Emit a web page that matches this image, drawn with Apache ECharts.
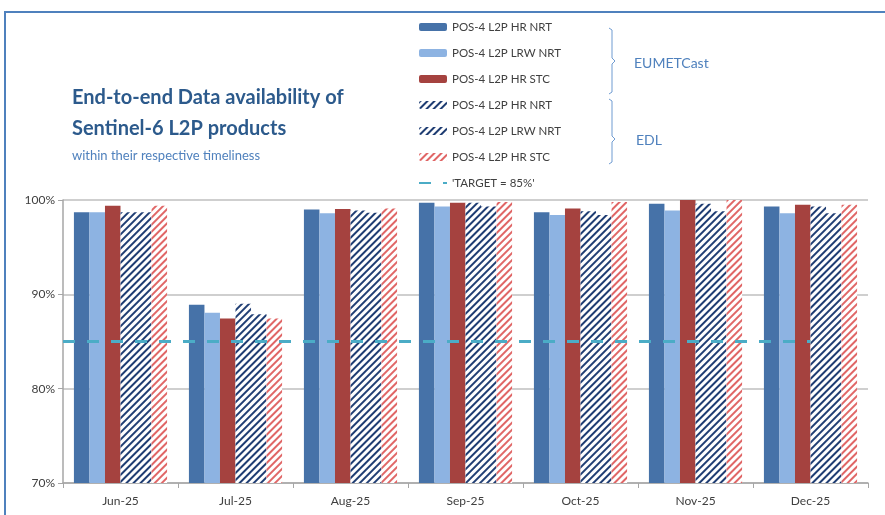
<!DOCTYPE html>
<html><head><meta charset="utf-8">
<script src="https://cdn.jsdelivr.net/npm/echarts@6/dist/echarts.min.js"></script>
<style>html,body{margin:0;padding:0;background:#fff}#c{width:885px;height:515px}</style>
</head><body><div id="c"></div>
<script>
const categories = ['Jun-25','Jul-25','Aug-25','Sep-25','Oct-25','Nov-25','Dec-25'];
const yTicks = [70, 80, 90, 100];
const eumHrNrt  = [98.7, 88.9, 99.0, 99.7, 98.7, 99.6, 99.3];
const eumLrwNrt = [98.7, 88.05, 98.6, 99.3, 98.4, 98.9, 98.6];
const eumHrStc  = [99.4, 87.45, 99.05, 99.7, 99.1, 100.0, 99.5];
const edlHrNrt  = [98.7, 89.0, 98.9, 99.7, 98.8, 99.6, 99.3];
const edlLrwNrt = [98.7, 87.9, 98.65, 99.3, 98.4, 98.8, 98.6];
const edlHrStc  = [99.4, 87.45, 99.1, 99.8, 99.8, 100.0, 99.5];
const targetValue = 85;
const seriesNames = ['POS-4 L2P HR NRT','POS-4 L2P LRW NRT','POS-4 L2P HR STC','POS-4 L2P HR NRT ','POS-4 L2P LRW NRT ','POS-4 L2P HR STC ',"'TARGET = 85%'"];

const FONT = 'Lato';
function hatch(col){
  return {symbol:'rect', dashArrayX:[1,0], dashArrayY:[2,3], rotation:-Math.PI/4, color:col, symbolSize:1};
}
function bar(name, data, color, decalColor){
  const s = {name, type:'bar', data, barGap:'0%', barCategoryGap:'19%',
    itemStyle:{color: color}};
  if (decalColor){ s.itemStyle.color = '#ffffff'; s.itemStyle.decal = hatch(decalColor); }
  return s;
}
const chart = echarts.init(document.getElementById('c'), null, {renderer:'canvas'});
const targetIdx = categories.length - 1;
const legendData = seriesNames.map((n,i)=> i===6 ? {name:n, itemStyle:{opacity:0}} : n);
chart.setOption({
  animation:false,
  textStyle:{fontFamily:FONT},
  grid:{left:63, right:17, top:200, bottom:32},
  xAxis:[{type:'category', data:categories,
    axisLine:{lineStyle:{color:'#a6a6a6', width:1.5}},
    axisTick:{show:true, length:5, lineStyle:{color:'#a6a6a6'}},
    axisLabel:{color:'#404040', fontSize:12, fontFamily:FONT, margin:12}},
   {type:'value', show:false, min:-0.5, max:categories.length-0.5}],
  yAxis:{type:'value', min:yTicks[0], max:yTicks[yTicks.length-1], interval:10,
    axisLine:{show:true, onZero:false, lineStyle:{color:'#a6a6a6', width:1.5}},
    axisTick:{show:true, length:5, lineStyle:{color:'#a6a6a6'}},
    splitLine:{lineStyle:{color:'#bfbfbf', width:1.5}},
    axisLabel:{color:'#404040', fontSize:12, fontFamily:FONT, margin:8, formatter:v=>v+'%'}},
  legend:{orient:'vertical', left:413, top:16, itemWidth:28, itemHeight:8, itemGap:14,
    textStyle:{color:'#404040', fontSize:11.5, fontFamily:FONT},
    data:legendData},
  series:[
    bar(seriesNames[0], eumHrNrt, '#4672a8'),
    bar(seriesNames[1], eumLrwNrt, '#8db3e2'),
    bar(seriesNames[2], eumHrStc, '#a5423f'),
    bar(seriesNames[3], edlHrNrt, null, '#1f3d73'),
    bar(seriesNames[4], edlLrwNrt, null, '#1f3d73'),
    bar(seriesNames[5], edlHrStc, null, '#e06666'),
    {name:seriesNames[6], type:'line', xAxisIndex:1, symbol:'none',
     data:[[-0.5, targetValue],[targetIdx, targetValue]],
     lineStyle:{color:'#4bacc6', width:3, type:[12,12]}, z:5}
  ],
  graphic:[
    {type:'rect', shape:{x:5, y:12, width:900, height:520}, style:{fill:'none', stroke:'#4f81bd', lineWidth:2}, silent:true},
    {type:'text', left:72, top:88, style:{text:'End-to-end Data availability of', font:'bold 20px '+FONT, fill:'#2c5a8c'}},
    {type:'text', left:72, top:119, style:{text:'Sentinel-6 L2P products', font:'bold 20px '+FONT, fill:'#2c5a8c'}},
    {type:'text', left:72, top:149, style:{text:'within their respective timeliness', font:'13px '+FONT, fill:'#4f81bd'}},
    {type:'polyline', shape:{points:[[609,28],[612,30],[612,58],[615,61],[612,64],[612,92],[609,94]]}, style:{stroke:'#6f9bd1', lineWidth:1, fill:'none'}},
    {type:'polyline', shape:{points:[[609,99],[612,101],[612,136],[615,139],[612,142],[612,162],[609,164]]}, style:{stroke:'#6f9bd1', lineWidth:1, fill:'none'}},
    {type:'text', left:634, top:56, style:{text:'EUMETCast', font:'14px '+FONT, fill:'#4f81bd'}},
    {type:'text', left:636, top:133, style:{text:'EDL', font:'14px '+FONT, fill:'#4f81bd'}}
  ]
});
</script></body></html>
